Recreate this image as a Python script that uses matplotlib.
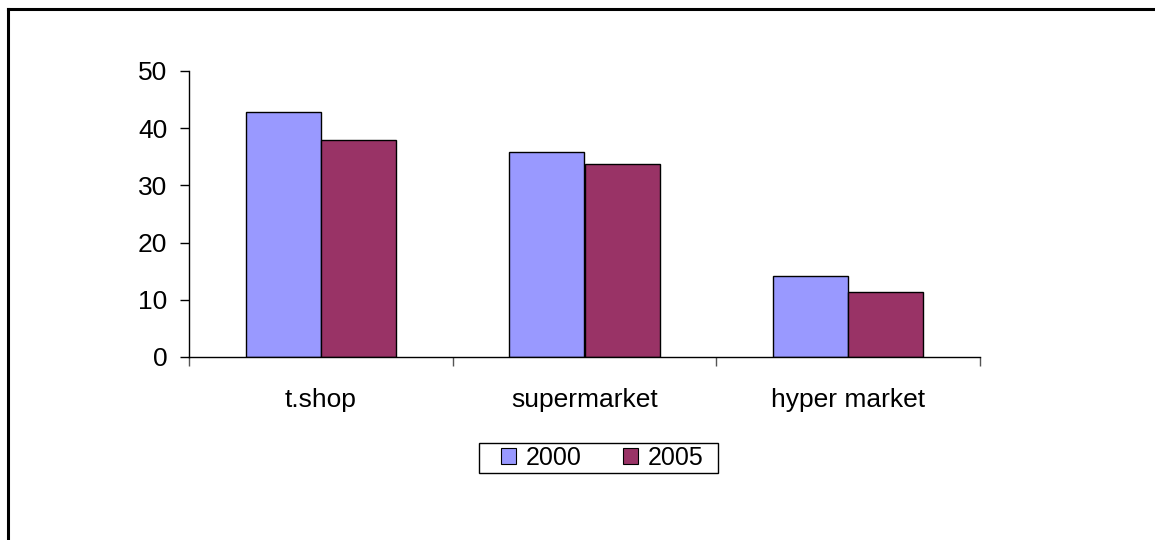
import matplotlib.pyplot as plt
import numpy as np
from matplotlib.lines import Line2D
from matplotlib.patches import Patch, Rectangle

# 数据
categories = ['t.shop', 'supermarket', 'hyper market']
years = ['2000', '2005']
values_2000 = [42.8, 35.9, 14.1]
values_2005 = [37.9, 33.7, 11.4]
colors = ['#9999FF', '#993366']

plt.rcParams['font.family'] = ['Liberation Sans', 'DejaVu Sans']

W, H = 1155, 540
fig = plt.figure(figsize=(W / 100, H / 100), dpi=100)
ax = fig.add_axes([189 / W, 1 - 357 / H, (980 - 189) / W, (357 - 71) / H])

x = np.arange(len(categories))
w = 0.285
ax.bar(x - w / 2, values_2000, w, color=colors[0], edgecolor='black', linewidth=1)
ax.bar(x + w / 2, values_2005, w, color=colors[1], edgecolor='black', linewidth=1)

ax.set_xlim(-0.5, len(categories) - 0.5)
ax.set_ylim(0, 50)
ax.set_yticks([0, 10, 20, 30, 40, 50])

# 类别标签放在刻度之间，刻度线画在分界处
ax.set_xticks(x)
ax.set_xticklabels(categories, fontsize=19)
ax.tick_params(axis='x', which='major', length=0, pad=22)
ax.set_xticks(np.arange(-0.5, len(categories), 1.0), minor=True)
ax.tick_params(axis='x', which='minor', length=6.5, width=1, direction='out', color='#555555')
ax.tick_params(axis='y', length=6.5, width=1, direction='out', labelsize=19, pad=9)

for s in ['top', 'right']:
    ax.spines[s].set_visible(False)
ax.spines['left'].set_linewidth(1)
ax.spines['bottom'].set_linewidth(1)

# 图例（边框单独画）
handles = [Patch(facecolor=c, edgecolor='black', linewidth=0.8) for c in colors]
fig.legend(handles, years, loc='center', bbox_to_anchor=(602.5 / W, 1 - 458 / H), ncol=2,
           fontsize=18, frameon=False, handlelength=0.6, handleheight=0.6,
           handletextpad=0.4, columnspacing=1.64, borderpad=0, borderaxespad=0)
fig.add_artist(Rectangle((479 / W, 1 - 473 / H), (718 - 479) / W, 30 / H, fill=False,
                         edgecolor='black', linewidth=1, transform=fig.transFigure))

# 外框（左边和上边）
fig.add_artist(Line2D([7.5 / W, 7.5 / W], [0, 1 - 8.5 / H], color='black', lw=2.2,
                      transform=fig.transFigure, solid_capstyle='projecting'))
fig.add_artist(Line2D([7.5 / W, 1], [1 - 8.5 / H, 1 - 8.5 / H], color='black', lw=2.2,
                      transform=fig.transFigure, solid_capstyle='projecting'))

fig.savefig('out.png', dpi=100)
